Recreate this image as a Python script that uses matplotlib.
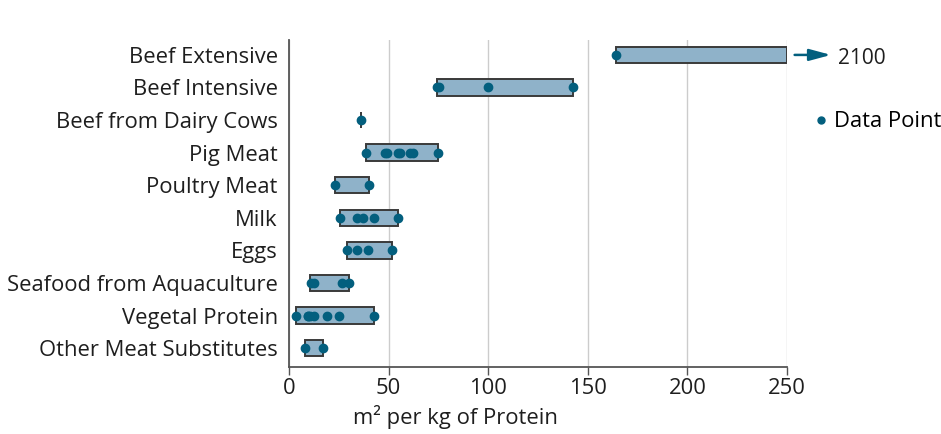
import matplotlib.pyplot as plt
from matplotlib.lines import Line2D

plt.rcParams['font.family'] = ['Open Sans', 'DejaVu Sans']

# categories top to bottom
categories = ["Beef Extensive", "Beef Intensive", "Beef from Dairy Cows", "Pig Meat",
              "Poultry Meat", "Milk", "Eggs", "Seafood from Aquaculture",
              "Vegetal Protein", "Other Meat Substitutes"]

# min / max of each range (Beef Extensive goes off scale up to 2100)
range_min = [164, 74.5, 36.0, 38.5, 23, 25.5, 29, 10.7, 3.5, 7.9]
range_max = [2100, 142.6, 36.4, 75, 40, 54.6, 51.7, 30.1, 42.7, 17.2]

# individual data points per category
points = [
    [164],
    [74.5, 75.2, 100, 142.6],
    [36.1],
    [38.5, 48, 49.2, 54.6, 55.8, 61, 62.3, 75],
    [23.1, 40],
    [25.6, 34, 37.3, 42.8, 54.6],
    [29.3, 34.3, 39.8, 51.7],
    [10.9, 12.5, 26.4, 30.1],
    [3.8, 9.4, 9.7, 10.5, 12.7, 19.2, 24.9, 42.7],
    [7.9, 17.2],
]

x_max = 250
fill = "#8fb2c9"
dot = "#035f7e"
edge = "#3a3a3a"
fs = 15.8

fig = plt.figure(figsize=(9.41, 4.34), dpi=100)
ax = fig.add_axes([0.307, 0.1544, 0.5295, 0.7536])

for i, cat in enumerate(categories):
    lo, hi = range_min[i], min(range_max[i], x_max)
    ax.barh(i, hi - lo, left=lo, height=0.5, color=fill, edgecolor=edge,
            linewidth=1.4, zorder=2)
    ax.scatter(points[i], [i] * len(points[i]), s=36, color=dot, zorder=3, clip_on=False)

ax.set_xlim(0, x_max)
ax.set_ylim(len(categories) - 1 + 0.58, -0.46)
ax.set_yticks(range(len(categories)))
ax.set_yticklabels(categories, fontsize=fs, color="#1e1e1e")
ax.set_xticks([0, 50, 100, 150, 200, 250])
ax.tick_params(axis='x', labelsize=fs, length=6, width=1, color="#555555", labelcolor="#1e1e1e", pad=2)
ax.tick_params(axis='y', length=0, pad=8)
ax.grid(axis='x', color="#cccccc", linewidth=1, zorder=0)
ax.set_axisbelow(True)
for s in ["top", "right"]:
    ax.spines[s].set_visible(False)
ax.spines["left"].set_color("#555555")
ax.spines["bottom"].set_color("#555555")
ax.spines["left"].set_linewidth(1.3)
ax.spines["bottom"].set_linewidth(1.3)

ax.set_xlabel("m² per kg of Protein", fontsize=fs, color="#1e1e1e")
ax.xaxis.set_label_coords(0.335, -0.115)

# off-scale arrow for Beef Extensive
ax.annotate("", xy=(1.088, 0), xycoords=('axes fraction', 'data'),
            xytext=(1.015, 0), textcoords=('axes fraction', 'data'),
            arrowprops=dict(arrowstyle="-|>,head_length=1.3,head_width=0.35", color=dot, lw=1.8,
                            shrinkA=0, shrinkB=0),
            annotation_clip=False)
ax.text(1.103, 0.1, f"{range_max[0]:g}", transform=ax.get_yaxis_transform(),
        fontsize=15, color="#1e1e1e", va="center", ha="left")

handle = Line2D([], [], marker="o", linestyle="", color=dot, markersize=5)
ax.legend([handle], ["Data Point"], loc="center left", bbox_to_anchor=(1.05, 0.75),
          frameon=False, fontsize=fs, handletextpad=0.2, handlelength=0.8,
          borderaxespad=0, borderpad=0)

fig.savefig("out.png", dpi=100)
